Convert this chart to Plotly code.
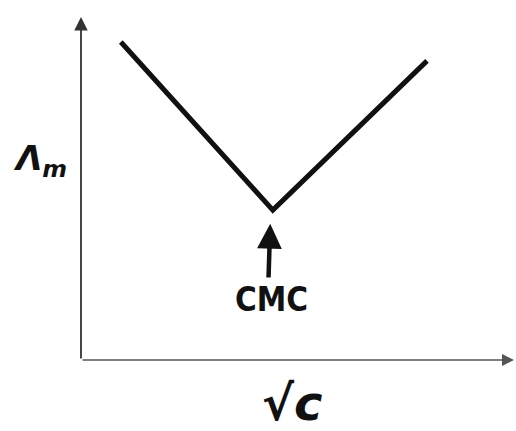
import plotly.graph_objects as go

# Molar conductivity vs square root of concentration (schematic)
sqrt_c = [0.92, 4.43, 7.99]
molar_cond = [9.27, 4.37, 8.72]
cmc_label = "CMC"
cmc_x = 4.37
cmc_arrow_tip = 3.97
cmc_arrow_tail = 2.36
cmc_text_y = 1.75

fig = go.Figure()
fig.add_trace(go.Scatter(
    x=sqrt_c, y=molar_cond, mode="lines",
    line=dict(color="#111111", width=5),
    showlegend=False, hoverinfo="skip",
))

annotations = [
    # y axis with arrow
    dict(x=0, y=10, ax=0, ay=0, xref="x", yref="y", axref="x", ayref="y",
         text="", showarrow=True, arrowhead=2, arrowsize=1.5, arrowwidth=1.8,
         arrowcolor="#333333"),
    # x axis with arrow
    dict(x=10, y=0, ax=0, ay=0, xref="x", yref="y", axref="x", ayref="y",
         text="", showarrow=True, arrowhead=2, arrowsize=1.5, arrowwidth=1.6,
         arrowcolor="#555555"),
    # arrow pointing at the CMC break
    dict(x=cmc_x, y=cmc_arrow_tip, ax=cmc_x - 0.04, ay=cmc_arrow_tail,
         xref="x", yref="y", axref="x", ayref="y",
         text="", showarrow=True, arrowhead=2, arrowsize=1.1, arrowwidth=4.5,
         arrowcolor="#111111"),
    dict(x=cmc_x + 0.03, y=cmc_text_y, xref="x", yref="y", text="<b>" + cmc_label + "</b>",
         xanchor="center", yanchor="middle", showarrow=False,
         font=dict(family="DejaVu Sans Condensed", size=33, color="#111111")),
    # axis titles
    dict(x=-0.095, y=0.583, xref="paper", yref="paper",
         xanchor="center", yanchor="middle",
         text="<b><i>Λ</i></b><sub><b><i>m</i></b></sub>", showarrow=False,
         font=dict(family="DejaVu Sans", size=34, color="#111111")),
    dict(x=0.487, y=-0.125, xref="paper", yref="paper",
         xanchor="center", yanchor="middle",
         text="<b>√<i>c</i></b>", showarrow=False,
         font=dict(family="DejaVu Sans", size=48, color="#111111")),
]

fig.update_layout(
    width=516, height=431,
    margin=dict(l=81, r=2, t=17, b=71),
    paper_bgcolor="white", plot_bgcolor="white",
    xaxis=dict(range=[0, 10], showgrid=False, zeroline=False, showticklabels=False,
               ticks="", showline=False, fixedrange=True),
    yaxis=dict(range=[0, 10], showgrid=False, zeroline=False, showticklabels=False,
               ticks="", showline=False, fixedrange=True),
    annotations=annotations,
    showlegend=False,
)

fig.write_html("out.html")
